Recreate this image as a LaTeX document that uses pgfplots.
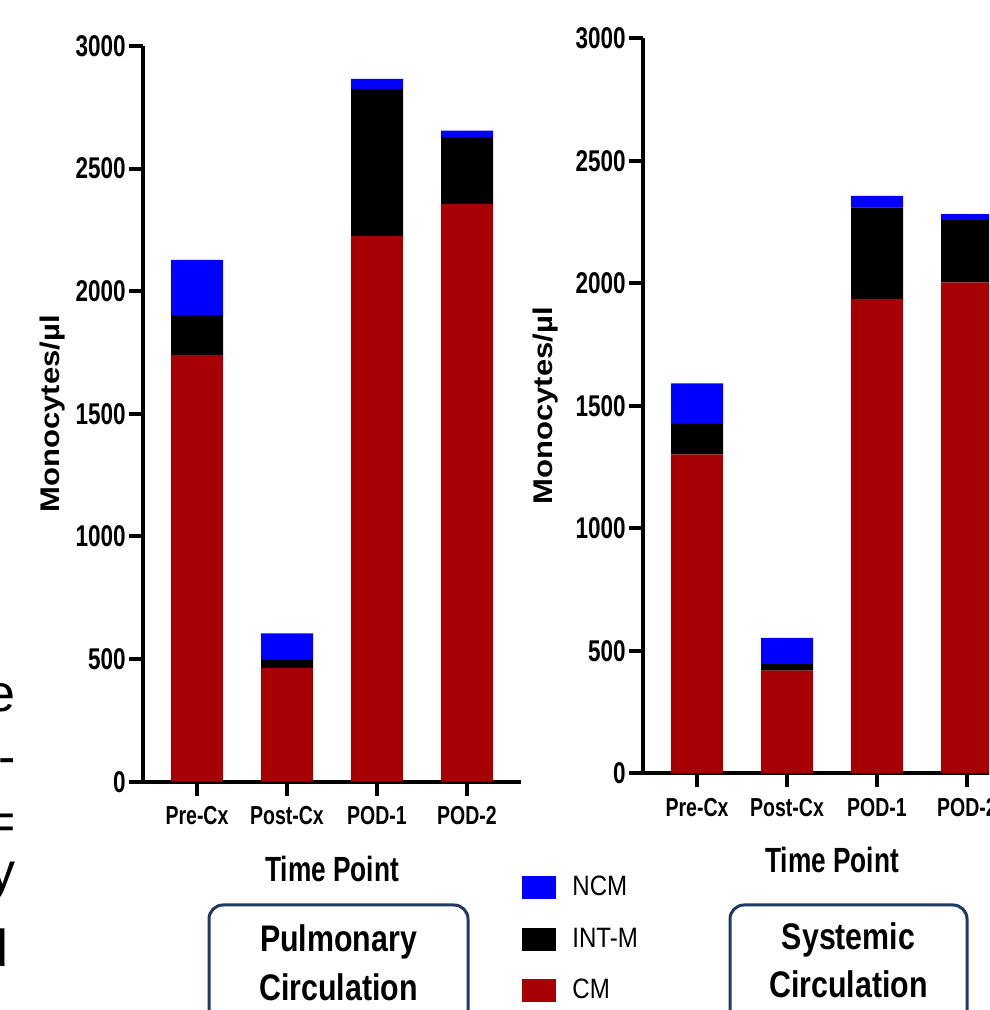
\documentclass[border=0pt]{standalone}
\usepackage{pgfplots}
\pgfplotsset{compat=1.18}
\usepackage{fontspec}
\setmainfont{Liberation Sans}
\newfontfamily\tickfont[FakeStretch=0.75]{Liberation Sans}
\newfontfamily\condfont[FakeStretch=0.82]{Liberation Sans}
\newfontfamily\ylabfont[FakeStretch=1.15]{Liberation Sans}
\newfontfamily\legfont[FakeStretch=0.86]{Liberation Sans}
\definecolor{cmred}{RGB}{166,0,4}
\definecolor{ncmblue}{RGB}{0,0,255}
\definecolor{boxnavy}{RGB}{31,56,100}

\pgfplotsset{
 monoaxis/.style={
  scale only axis, width=189pt, height=367.85pt,
  ybar stacked, bar width=26pt,
  xmin=-0.6, xmax=3.6, ymin=0, ymax=3000,
  xtick={0,1,2,3}, xticklabels={Pre-Cx,Post-Cx,POD-1,POD-2},
  ytick={0,500,...,3000},
  axis x line*=bottom, axis y line*=left,
  axis line style={-, line width=2pt, black},
  tick align=outside, major tick length=7pt,
  tick style={line width=2pt, black},
  /pgf/number format/assume math mode=true,
  yticklabel style={font=\tickfont\bfseries\fontsize{15}{17}\selectfont, /pgf/number format/1000 sep={}, inner sep=1.5pt},
  xticklabel style={font=\tickfont\bfseries\fontsize{13}{15}\selectfont, yshift=-2pt},
  xlabel={Time Point}, ylabel={Monocytes/µl},
  xlabel style={font=\tickfont\bfseries\fontsize{17.5}{20}\selectfont, at={(axis description cs:0.5,0)}, anchor=base, yshift=-49.65pt},
  ylabel style={font=\ylabfont\bfseries\fontsize{13.5}{15}\selectfont, anchor=center},
 }
}

\begin{document}
\begin{tikzpicture}
\useasboundingbox (0,0) rectangle (494.5pt,505pt);
\clip (0,0) rectangle (494.5pt,505pt);

% Left panel: Pulmonary circulation
\begin{axis}[monoaxis,
  at={(71.5pt,114.15pt)}, anchor=south west,
  ylabel style={at={(axis description cs:-0.2394,0.5)}},
  reverse legend,
  legend style={draw=none, fill=none, at={(1.0026,-0.2138)}, anchor=west,
    font=\legfont\fontsize{14}{16}\selectfont, legend cell align=left, row sep=10.5pt,
    inner sep=0pt, /tikz/every odd column/.append style={column sep=6pt}},
  legend image code/.code={\fill[#1] (0pt,-5.75pt) rectangle (17pt,5.75pt);},
]
\addplot[fill=cmred, draw=none] coordinates {(0,1740) (1,464) (2,2225) (3,2356)};
\addlegendentry{CM}
\addplot[fill=black, draw=none] coordinates {(0,163) (1,33) (2,600) (3,272)};
\addlegendentry{INT-M}
\addplot[fill=ncmblue, draw=none] coordinates {(0,225) (1,108) (2,41) (3,27)};
\addlegendentry{NCM}
\end{axis}

% Right panel: Systemic circulation
\begin{axis}[monoaxis, height=367.5pt,
  at={(321.5pt,118.35pt)}, anchor=south west,
  ylabel style={at={(axis description cs:-0.259,0.5)}},
]
\addplot[fill=cmred, draw=none] coordinates {(0,1302) (1,419) (2,1936) (3,2004)};
\addplot[fill=black, draw=none] coordinates {(0,124) (1,27) (2,374) (3,254)};
\addplot[fill=ncmblue, draw=none] coordinates {(0,166) (1,107) (2,47) (3,24)};
\end{axis}

% Boxes
\draw[boxnavy, line width=1.5pt, rounded corners=7pt] (104.5pt,-10pt) rectangle (234pt,52.5pt);
\node[font=\condfont\bfseries\fontsize{18.5}{22}\selectfont, anchor=base] at (169.25pt,29pt) {Pulmonary};
\node[font=\condfont\bfseries\fontsize{18.5}{22}\selectfont, anchor=base] at (169.25pt,5pt) {Circulation};
\draw[boxnavy, line width=1.5pt, rounded corners=7pt] (365pt,-10pt) rectangle (483.5pt,52.5pt);
\node[font=\condfont\bfseries\fontsize{18.5}{22}\selectfont, anchor=base] at (424.25pt,30pt) {Systemic};
\node[font=\condfont\bfseries\fontsize{18.5}{22}\selectfont, anchor=base] at (424.25pt,6pt) {Circulation};

% Cut-off text at the left edge
\begin{scope}[every node/.style={font=\fontsize{26}{30}\selectfont, anchor=base east, inner sep=0pt}]
\node at (8pt,149pt) {e};
\node at (8pt,117.5pt) {-};
\node at (8pt,85pt) {=};
\node at (8pt,60pt) {y};
\node at (4.5pt,21.5pt) {d};
\end{scope}
\end{tikzpicture}
\end{document}
